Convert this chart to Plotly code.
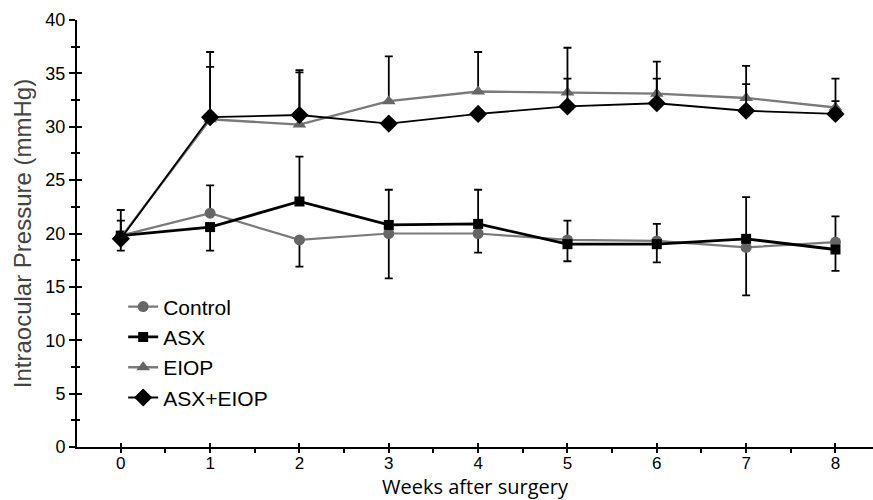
import plotly.graph_objects as go

weeks = [0, 1, 2, 3, 4, 5, 6, 7, 8]

control = [19.8, 21.9, 19.4, 20.0, 20.0, 19.4, 19.3, 18.7, 19.2]
asx = [19.8, 20.6, 23.0, 20.8, 20.9, 19.0, 19.0, 19.5, 18.5]
eiop = [19.6, 30.7, 30.2, 32.4, 33.3, 33.2, 33.1, 32.7, 31.8]
asx_eiop = [19.5, 30.9, 31.1, 30.3, 31.2, 31.9, 32.2, 31.5, 31.2]

control_up = [2.4, 2.6, 0, 0, 0, 1.8, 1.6, 0, 2.4]
control_dn = [0, 0, 2.5, 4.2, 1.8, 0, 0, 4.5, 0]
asx_up = [1.4, 0, 4.2, 3.3, 3.2, 0, 0, 3.9, 0]
asx_dn = [1.4, 2.2, 0, 0, 0, 1.6, 1.7, 0, 2.0]
eiop_up = [0, 4.9, 4.9, 4.2, 3.7, 4.2, 3.0, 3.0, 2.7]
eiop_dn = [0, 0, 0, 0, 0, 0, 0, 0, 0]
asx_eiop_up = [0, 6.1, 4.2, 0, 0, 2.6, 2.3, 2.5, 1.2]
asx_eiop_dn = [0, 0, 0, 0, 0, 0, 0, 0, 0]

x_ticks = [0, 1, 2, 3, 4, 5, 6, 7, 8]
y_ticks = [0, 5, 10, 15, 20, 25, 30, 35, 40]

GRAY_LINE = "#7a7a7a"
GRAY_MARK = "#666666"

def err(up, dn):
    return dict(type="data", symmetric=False, array=up, arrayminus=dn,
                color="black", thickness=1.8, width=4)

fig = go.Figure()
fig.add_trace(go.Scatter(
    x=weeks, y=control, name="Control", mode="lines+markers",
    line=dict(color=GRAY_LINE, width=2.2),
    marker=dict(symbol="circle", size=11, color=GRAY_MARK),
    error_y=err(control_up, control_dn)))
fig.add_trace(go.Scatter(
    x=weeks, y=asx, name="ASX", mode="lines+markers",
    line=dict(color="black", width=2.8),
    marker=dict(symbol="square", size=10, color="black"),
    error_y=err(asx_up, asx_dn)))
fig.add_trace(go.Scatter(
    x=weeks, y=eiop, name="EIOP", mode="lines+markers",
    line=dict(color=GRAY_LINE, width=2.4),
    marker=dict(symbol="triangle-up", size=12, color=GRAY_MARK),
    error_y=err(eiop_up, eiop_dn)))
fig.add_trace(go.Scatter(
    x=weeks, y=asx_eiop, name="ASX+EIOP", mode="lines+markers",
    line=dict(color="black", width=1.8),
    marker=dict(symbol="diamond", size=14, color="black"),
    error_y=err(asx_eiop_up, asx_eiop_dn)))
# helper trace for overlay axes (other half of crossing ticks)
fig.add_trace(go.Scatter(x=[None], y=[None], xaxis="x2", yaxis="y2",
                         showlegend=False, hoverinfo="skip"))

xr = [-0.49, 8.42]
yr = [0, 40]
tickfont = dict(family="Liberation Sans, Arial, sans-serif", size=18, color="black")
xtickfont = dict(family="Liberation Sans, Arial, sans-serif", size=17, color="black")

fig.update_layout(
    width=873, height=500,
    margin=dict(l=77, r=0, t=20, b=53, autoexpand=False),
    paper_bgcolor="white", plot_bgcolor="white",
    showlegend=True,
    legend=dict(x=0.058, y=0.376, xanchor="left", yanchor="top",
                bgcolor="rgba(0,0,0,0)",
                font=dict(family="Liberation Sans, Arial, sans-serif", size=21, color="black")),
    xaxis=dict(range=xr, tickmode="array", tickvals=x_ticks, ticktext=[str(v) for v in x_ticks],
               automargin=False,
               showgrid=False, zeroline=False, showline=True, linecolor="black", linewidth=2,
               ticks="inside", ticklen=4, tickwidth=2, tickcolor="black",
               tickfont=xtickfont,
               title=dict(text="Weeks after surgery", standoff=8,
                          font=dict(family="Open Sans, sans-serif", size=20, color="black"))),
    yaxis=dict(range=yr, tickmode="array", tickvals=y_ticks, ticktext=[str(v) for v in y_ticks],
               automargin=False,
               showgrid=False, zeroline=False, showline=True, linecolor="black", linewidth=2,
               ticks="outside", ticklen=6, tickwidth=2, tickcolor="black",
               minor=dict(dtick=2.5, tick0=0, ticks="outside", ticklen=4, tickwidth=2, tickcolor="black"),
               tickfont=tickfont,
               title=dict(text="Intraocular Pressure (mmHg)", standoff=7,
                          font=dict(family="Liberation Sans, Arial, sans-serif", size=24, color="#444444"))),
    xaxis2=dict(overlaying="x", anchor="y2", side="bottom", range=xr, tickmode="array",
                automargin=False,
                tickvals=x_ticks, showticklabels=False, showgrid=False, zeroline=False,
                showline=False, ticks="outside", ticklen=5, tickwidth=2, tickcolor="black",
                minor=dict(dtick=0.5, tick0=0, ticks="outside", ticklen=5, tickwidth=2, tickcolor="black")),
    yaxis2=dict(overlaying="y", anchor="x2", side="left", range=yr, tickmode="array",
                automargin=False,
                tickvals=y_ticks, showticklabels=False, showgrid=False, zeroline=False,
                showline=False, ticks="inside", ticklen=5, tickwidth=2, tickcolor="black",
                minor=dict(dtick=2.5, tick0=0, ticks="inside", ticklen=3, tickwidth=2, tickcolor="black")),
)

fig.write_html("out.html", config={"displayModeBar": False},
               post_script="document.body.style.margin='0px';document.body.style.overflow='hidden';")
